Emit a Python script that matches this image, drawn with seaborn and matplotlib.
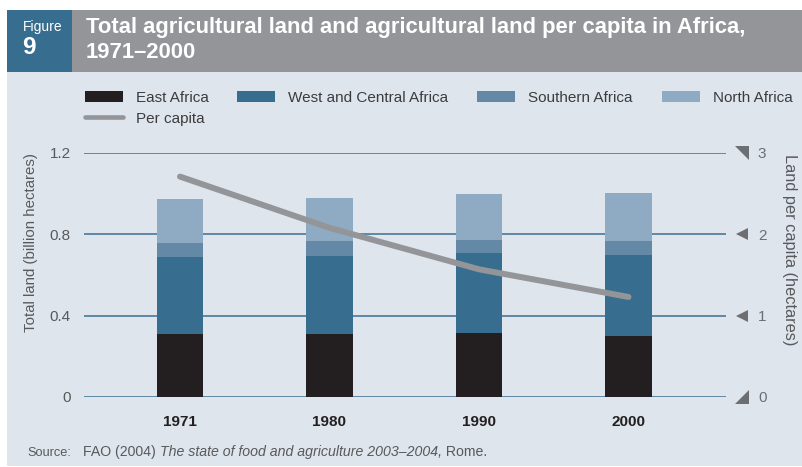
import numpy as np
import pandas as pd
import matplotlib
matplotlib.use("Agg")
import matplotlib.pyplot as plt
import seaborn as sns
from matplotlib.patches import Rectangle, Patch
from matplotlib.lines import Line2D
from matplotlib.transforms import blended_transform_factory
from matplotlib import font_manager

# ---------------- data ----------------
years = ["1971", "1980", "1990", "2000"]
east_africa = [0.310, 0.310, 0.315, 0.300]
west_central_africa = [0.379, 0.384, 0.393, 0.398]
southern_africa = [0.068, 0.073, 0.064, 0.069]
north_africa = [0.217, 0.212, 0.227, 0.236]
per_capita = [2.71, 2.08, 1.57, 1.23]
series_names = ["East Africa", "West and Central Africa", "Southern Africa", "North Africa"]
line_name = "Per capita"
left_ticks = [0, 0.4, 0.8, 1.2]
left_ticklabels = ["0", "0.4", "0.8", "1.2"]
right_ticks = [0, 1, 2, 3]
right_ticklabels = ["0", "1", "2", "3"]

# ---------------- style ----------------
C_EAST = "#231F20"
C_WEST = "#376E8F"
C_SOUTH = "#6389A7"
C_NORTH = "#8FABC4"
C_LINE = "#939598"
BG = "#DFE5ED"
HEAD_GRAY = "#939598"
HEAD_BLUE = "#376E8F"
GRID = "#55809F"
TXT = "#58595B"
TXT2 = "#6D6E71"
LEGTXT = "#3C3C3E"

sns.set_theme(style="white")
plt.rcParams["font.family"] = ["Liberation Sans", "DejaVu Sans"]

names = {f.name for f in font_manager.fontManager.ttflist}
NARROW = "Liberation Sans Narrow" if "Liberation Sans Narrow" in names else "Liberation Sans"

W, H = 802, 467
def X(px):
    return px / W
def Y(py):
    return 1 - py / H

fig = plt.figure(figsize=(W / 100, H / 100), dpi=100)
fig.patch.set_facecolor("white")

# panel background and header
fig.add_artist(Rectangle((X(7), Y(466)), (802 - 7) / W, (466 - 72) / H, transform=fig.transFigure,
                         facecolor=BG, edgecolor="none", zorder=-10))
fig.add_artist(Rectangle((X(7), Y(72)), (802 - 7) / W, 62 / H, transform=fig.transFigure,
                         facecolor=HEAD_GRAY, edgecolor="none", zorder=-10))
fig.add_artist(Rectangle((X(7), Y(72)), (72 - 7) / W, 62 / H, transform=fig.transFigure,
                         facecolor=HEAD_BLUE, edgecolor="none", zorder=-9))

fig.text(X(23), Y(31), "Figure", color="white", fontsize=10, family=[NARROW, "DejaVu Sans"],
         fontstretch="condensed", ha="left", va="baseline")
fig.text(X(22), Y(54), "9", color="white", fontsize=17.5, fontweight="bold",
         family=[NARROW, "DejaVu Sans"], ha="left", va="baseline")
t1 = fig.text(X(86), Y(33), "Total agricultural land and agricultural land per capita in Africa,",
              color="white", fontsize=13.4, fontweight="bold", ha="left", va="baseline")
t2 = fig.text(X(86), Y(58), "1971\u20132000", color="white", fontsize=13.4, fontweight="bold",
              ha="left", va="baseline")

# ---------------- main axes ----------------
ax = fig.add_axes([X(84), Y(397), (726 - 84) / W, (397 - 153) / H])
ax.set_facecolor("none")

df = pd.DataFrame({
    "year": years,
    "east": east_africa,
    "west": west_central_africa,
    "south": southern_africa,
    "north": north_africa,
})
df["lvl_east"] = df["east"]
df["lvl_west"] = df["lvl_east"] + df["west"]
df["lvl_south"] = df["lvl_west"] + df["south"]
df["lvl_north"] = df["lvl_south"] + df["north"]

for col, color in [("lvl_north", C_NORTH), ("lvl_south", C_SOUTH),
                   ("lvl_west", C_WEST), ("lvl_east", C_EAST)]:
    sns.barplot(data=df, x="year", y=col, color=color, width=0.31, saturation=1,
                linewidth=0, ax=ax)

ax.set(xlabel="", ylabel="")
ax.set_ylim(0, 1.2)
ax.set_yticks(left_ticks, left_ticklabels)
ax.set_axisbelow(True)
ax.grid(axis="y", color=GRID, lw=1.3)
ax.grid(axis="x", visible=False)
for s in ax.spines.values():
    s.set_visible(False)
ax.tick_params(axis="y", length=0, pad=9.5, labelsize=11, labelcolor=TXT)
ax.tick_params(axis="x", length=0, pad=13, labelsize=11, labelcolor=C_EAST)
for lab in ax.get_xticklabels():
    lab.set_fontweight("bold")

# ---------------- secondary axis (per capita) ----------------
ax2 = ax.twinx()
ax2.set_facecolor("none")
sns.lineplot(x=np.arange(len(years)), y=per_capita, ax=ax2, color=C_LINE, lw=4.3,
             solid_capstyle="round")
ax2.set(xlabel="", ylabel="")
ax2.set_ylim(0, 3)
ax2.set_yticks(right_ticks, right_ticklabels)
ax2.grid(False)
for s in ax2.spines.values():
    s.set_visible(False)
ax2.tick_params(axis="y", length=0, pad=23, labelsize=11, labelcolor=TXT2)
ax.set_xlim(-0.642, 3.652)

trans = blended_transform_factory(ax2.transAxes, ax2.transData)
xm = (742 - 84) / 642
for i, v in enumerate(right_ticks):
    if i == len(right_ticks) - 1:
        mk, ms = [(-1, 1), (1, 1), (1, -1)], 10
    elif i == 0:
        mk, ms = [(-1, -1), (1, -1), (1, 1)], 10
    else:
        mk, ms = "<", 8
    ax2.plot([xm], [v], marker=mk, ms=ms, color=TXT2, mew=0, ls="none",
             transform=trans, clip_on=False)

# axis titles
fig.text(X(31), Y(242), "Total land (billion hectares)", rotation=90, ha="center", va="center",
         fontsize=10.8, color=TXT)
fig.text(X(790), Y(250), "Land per capita (hectares)", rotation=270, ha="center", va="center",
         fontsize=11.8, color=TXT)

# ---------------- legend ----------------
FS = 11
fs_px = FS * 100 / 72
leg_items = [
    (Patch(facecolor=C_EAST, edgecolor="none"), series_names[0], 85, 97.6),
    (Line2D([], [], color=C_LINE, lw=3.3, solid_capstyle="round"), line_name, 85, 118.7),
    (Patch(facecolor=C_WEST, edgecolor="none"), series_names[1], 237, 97.6),
    (Patch(facecolor=C_SOUTH, edgecolor="none"), series_names[2], 477, 97.6),
    (Patch(facecolor=C_NORTH, edgecolor="none"), series_names[3], 662, 97.6),
]
for h, lab, xp, yp in leg_items:
    fig.legend([h], [lab], loc="center left", bbox_to_anchor=(X(xp), Y(yp)),
               frameon=False, borderpad=0, borderaxespad=0,
               handlelength=38 / fs_px, handleheight=11 / fs_px, handletextpad=0.85,
               fontsize=FS, labelcolor=LEGTXT)

# ---------------- source ----------------
SFS = 9.2
fig.text(X(27), Y(456), "Source:", fontsize=SFS, color=TXT, ha="left", va="baseline")
src_parts = [("FAO (2004) ", "normal"),
             ("The state of food and agriculture 2003\u20132004,", "italic"),
             (" Rome.", "normal")]
src_texts = [fig.text(0, Y(456), s, fontsize=SFS, style=st, color=TXT, ha="left", va="baseline")
             for s, st in src_parts]

# ---------------- fit text widths ----------------
r = fig.canvas.get_renderer()
w1 = t1.get_window_extent(r).width
scale = 659 / w1
t1.set_fontsize(13.4 * scale)
t2.set_fontsize(13.4 * scale)

r = fig.canvas.get_renderer()
tot = sum(t.get_window_extent(r).width for t in src_texts)
sc = 402 / tot
xcur = 83
for t in src_texts:
    t.set_fontsize(SFS * sc)
r = fig.canvas.get_renderer()
for t in src_texts:
    t.set_x(X(xcur))
    xcur += t.get_window_extent(r).width

fig.savefig("out.png", dpi=100, facecolor="white")
